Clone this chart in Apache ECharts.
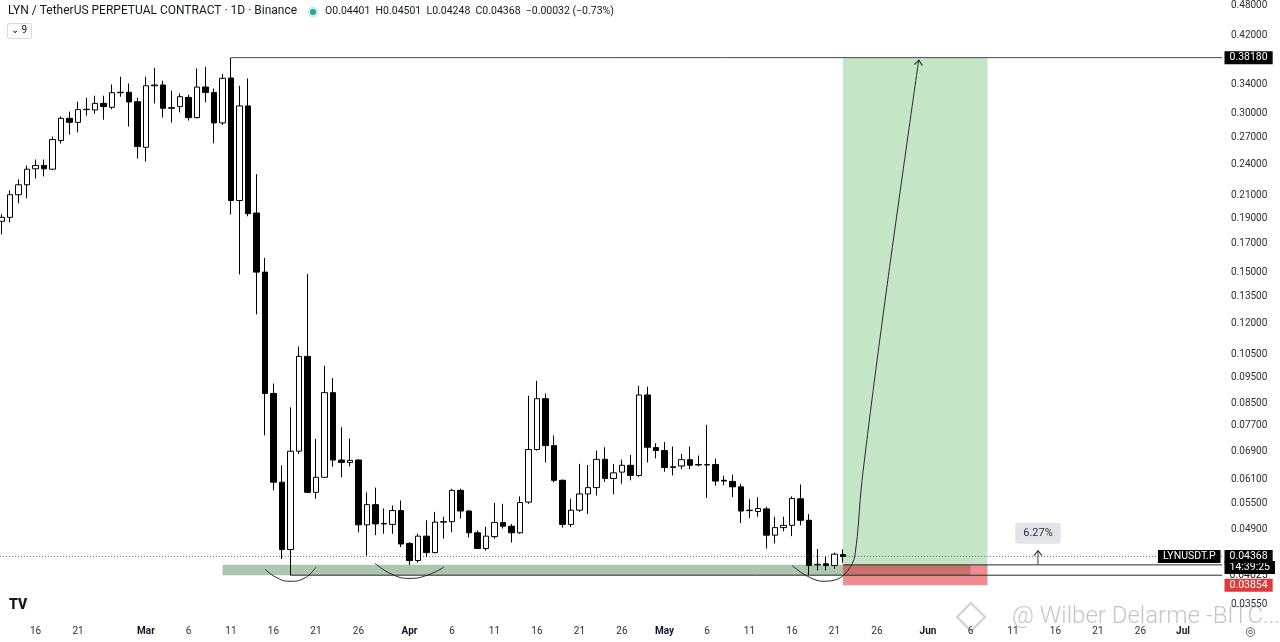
<!DOCTYPE html>
<html><head><meta charset="utf-8">
<script src="https://cdn.jsdelivr.net/npm/echarts@6/dist/echarts.min.js"></script>
<style>html,body{margin:0;padding:0;background:#fff}#c{width:1280px;height:642px}</style>
</head><body><div id="c"></div>
<script>
// ---------- data ----------
const firstDay = '2026-02-12';
const opens  = [.1875,.1907,.2104,.2197,.2355,.2389,.2351,.2662,.2933,.2882,.3046,.3042,.3130,.3077,.3278,.3285,.3153,
  .2586,.3379,.3390,.3064,.3086,.3212,.2942,.3360,.3282,.2875,.3494,.2052,.3095,.1943,.1503,.0887,.0603,.0450,.0690,.1042,.0577,.0616,.0890,.0664,.0657,.0664,.0501,.0547,.0503,.0502,.0533,
  .0462,.0429,.0477,.0444,.0507,.0508,.0582,.0532,.0484,.0452,.0476,.0506,.0498,.0484,.0553,.0695,.0867,.0707,.0608,.0502,.0534,.0573,.0589,.0666,.0613,.0630,.0649,.0621,.0881,.0701,
  .0692,.0643,.0647,.0665,.0651,.0650,.0651,.0608,.0605,.0591,.0533,.0531,.0537,.0479,.0495,.0500,.0561,.0511,.0421,.0423,.0420,.04401];
const closes = [.1907,.2104,.2197,.2351,.2389,.2355,.2674,.2933,.2882,.3046,.3050,.3130,.3086,.3278,.3285,.3149,.2594,
  .3379,.3390,.3064,.3072,.3222,.2942,.3360,.3282,.2875,.3491,.2052,.3095,.1938,.1503,.0887,.0603,.0450,.0690,.1042,.0577,.0616,.0890,.0664,.0657,.0663,.0501,.0547,.0503,.0504,.0533,.0461,
  .0429,.0477,.0444,.0507,.0508,.0582,.0532,.0484,.0452,.0477,.0506,.0498,.0484,.0552,.0695,.0867,.0707,.0608,.0502,.0534,.0573,.0589,.0666,.0613,.0628,.0649,.0621,.0881,.0702,.0692,
  .0643,.0645,.0665,.0649,.0650,.0651,.0606,.0606,.0591,.0532,.0534,.0538,.0479,.0495,.0500,.0562,.0511,.0420,.0422,.0420,.0441,.04368];
const lows   = [.1772,.1866,.2027,.2071,.2258,.2278,.2348,.2628,.2733,.2760,.2967,.2993,.2916,.3050,.3222,.2829,.2463,
  .2431,.3130,.2942,.2879,.3010,.2904,.2933,.3144,.2631,.2850,.1930,.1488,.1916,.1251,.0739,.0582,.0432,.04025,.0682,.0575,.0561,.0614,.0645,.0616,.0646,.0485,.0438,.0479,.0482,.0482,.0455,
  .0421,.0425,.0436,.0443,.0472,.0485,.0515,.0474,.0451,.0448,.0472,.0493,.0464,.0482,.0549,.0692,.0657,.0603,.0495,.0496,.0530,.0525,.0569,.0604,.0572,.0599,.0608,.0617,.0657,.0669,
  .0631,.0621,.0638,.0638,.0646,.0563,.0594,.0595,.0565,.0505,.0516,.0519,.0452,.0462,.0487,.0477,.0500,.0403,.0411,.0411,.0414,.04248];
const highs  = [.1932,.2144,.2249,.2389,.2452,.2452,.2709,.2955,.3019,.3153,.3208,.3236,.3236,.3398,.3514,.3413,.3208,
  .3514,.3653,.3453,.3307,.3268,.3250,.3642,.3669,.3340,.3555,.3818,.3379,.3489,.2301,.1599,.0926,.0649,.0835,.1088,.1491,.0728,.1000,.0948,.0766,.0729,.0666,.0577,.0589,.0538,.0545,.0557,
  .0465,.0482,.0511,.0530,.0519,.0586,.0586,.0534,.0489,.0497,.0551,.0549,.0503,.0567,.0878,.0937,.0887,.0739,.0610,.0561,.0653,.0650,.0692,.0702,.0653,.0665,.0679,.0917,.0913,.0714,
  .0718,.0704,.0682,.0704,.0677,.0774,.0668,.0620,.0623,.0599,.0560,.0565,.0542,.0519,.0519,.0567,.0597,.0525,.0451,.0436,.0444,.04501];

const priceTicks = [0.48,0.42,0.34,0.30,0.27,0.24,0.21,0.19,0.17,0.15,0.135,0.12,0.105,0.095,0.085,0.077,0.069,0.061,0.055,0.049,0.0355];
const dateTicks = ['2026-02-16','2026-02-21','2026-03-01','2026-03-06','2026-03-11','2026-03-16','2026-03-21','2026-03-26',
  '2026-04-01','2026-04-06','2026-04-11','2026-04-16','2026-04-21','2026-04-26','2026-05-01','2026-05-06','2026-05-11',
  '2026-05-16','2026-05-21','2026-05-26','2026-06-01','2026-06-06','2026-06-11','2026-06-16','2026-06-21','2026-06-26','2026-07-01'];
const monthNames = ['Jan','Feb','Mar','Apr','May','Jun','Jul','Aug','Sep','Oct','Nov','Dec'];

// drawings
const resistance = 0.3818, resistanceFrom = '2026-03-11';
const supportLow = 0.04025, supportHigh = 0.0421, supportFrom = '2026-03-10', supportTo = '2026-06-06', supportRayFrom = '2026-03-18';
const posFrom = '2026-05-22', posTo = '2026-06-08', posTarget = 0.3818, posEntry = 0.0421, posStop = 0.03854;
const lastPrice = 0.04368;
const rangeLabel = '6.27%', rangeDay = [6, 13.94], rangeFrom = 0.0421, rangeTo = 0.0447, rangeBox = 0.0483;
// arcs: [month, day (decimal), price]
const arc1 = [[3,15.0,.0413],[3,16.29,.0399],[3,17.94,.0392],[3,19.59,.0397],[3,21.0,.0417]];
const arc2 = [[3,27.94,.0424],[3,29.94,.0404],[4,1.06,.0397],[4,3.18,.0403],[4,5.06,.0417]];
const arrowPath = [[5,16.0,.0420],[5,17.53,.0403],[5,19.65,.0392],[5,21.41,.0396],[5,22.59,.0411],[5,23.41,.0439],[5,24.24,.0608],[5,26.94,.1325],[5,30.9,.3770]];

// ---------- helpers ----------
const DAY = 864e5;
const T = s => Date.parse(s + 'T00:00:00Z');
const TD = (m, d) => Date.UTC(2026, m - 1, 1) + (d - 1) * DAY;
const xMin = TD(2, 11.824), xMax = TD(7, 5.59);
const yMin = 0.033562, yMax = 0.48209;
const FONT = 'Roboto, "Noto Sans", sans-serif';
function dateIndex(s) { return Math.round((T(s) - T(firstDay)) / DAY); }

const candles = opens.map((o, i) => [T(firstDay) + i * DAY, o, closes[i], lows[i], highs[i]]);
const toPts = arr => arr.map(p => [TD(p[0], p[1]), p[2]]);
const DRAW = '#2b2b2b';

const tag = (text, bg, fg, pos, extra) => Object.assign({
  show: true, position: pos || 'right', distance: 2, formatter: text,
  backgroundColor: bg, color: fg, padding: [2, 5, 1, 5], fontSize: 10.5, fontFamily: FONT, lineHeight: 10
}, extra || {});
const pt = (x, y, label) => ({ value: [x, y], label });

const chart = echarts.init(document.getElementById('c'));
chart.setOption({
  animation: false,
  backgroundColor: '#ffffff',
  textStyle: { fontFamily: FONT },
  grid: { left: 0, right: 58, top: 0, bottom: 25 },
  xAxis: {
    type: 'value', min: xMin, max: xMax, scale: true,
    axisLine: { show: false }, axisTick: { show: false }, splitLine: { show: false },
    axisLabel: {
      customValues: dateTicks.map(T), margin: 9, fontSize: 10, color: '#2a2e39', fontFamily: FONT,
      formatter: v => { const d = new Date(v); return d.getUTCDate() === 1 ? '{m|' + monthNames[d.getUTCMonth()] + '}' : String(d.getUTCDate()); },
      rich: { m: { fontWeight: 'bold', fontSize: 10, color: '#131722', fontFamily: FONT } }
    }
  },
  yAxis: {
    type: 'log', logBase: 10, position: 'right', min: yMin, max: yMax,
    axisLine: { show: false }, axisTick: { show: false }, splitLine: { show: false },
    axisLabel: { customValues: priceTicks, formatter: v => Number(v).toFixed(5), fontSize: 10, color: '#2a2e39', margin: 9, fontFamily: FONT }
  },
  series: [
    { // support zone
      type: 'line', data: [], z: 1, silent: true,
      markArea: { silent: true, itemStyle: { color: 'rgba(70,130,75,0.45)' },
        data: [[{ coord: [T(supportFrom), supportHigh] }, { coord: [T(supportTo), supportLow] }]] }
    },
    { // long position tool
      type: 'line', data: [], z: 1, silent: true,
      markArea: { silent: true, data: [
        [{ coord: [T(posFrom), posTarget], itemStyle: { color: 'rgba(76,175,80,0.32)' } }, { coord: [T(posTo), posEntry] }],
        [{ coord: [T(posFrom), posEntry], itemStyle: { color: 'rgba(222,45,55,0.55)' } }, { coord: [T(posTo), posStop] }]
      ] }
    },
    { // current price dotted line
      type: 'line', z: 2, symbol: 'none', silent: true, lineStyle: { color: '#6b6b6b', width: 1, type: [1, 2] },
      data: [[xMin, lastPrice], [xMax, lastPrice]] },
    { // rays
      type: 'line', z: 2, symbol: 'none', silent: true, lineStyle: { color: '#4a4a4a', width: 1 },
      data: [[T(resistanceFrom), highs[dateIndex(resistanceFrom)]], [T(resistanceFrom), resistance], [xMax, resistance]]
    },
    { type: 'line', z: 2, symbol: 'none', silent: true, lineStyle: { color: DRAW, width: 1 },
      data: [[T(supportRayFrom), supportLow], [xMax, supportLow]] },
    { type: 'line', z: 2, symbol: 'none', silent: true, lineStyle: { color: DRAW, width: 1 },
      data: [[T(posFrom), supportHigh], [xMax, supportHigh]] },
    {
      type: 'candlestick', z: 3, barWidth: 6, data: candles,
      encode: { x: 0, y: [1, 2, 3, 4] },
      itemStyle: { color: '#ffffff', color0: '#000000', borderColor: '#000000', borderColor0: '#000000', borderColorDoji: '#000000', borderWidth: 1 }
    },
    { type: 'line', z: 4, symbol: 'none', smooth: 0.5, silent: true, lineStyle: { color: DRAW, width: 1 }, data: toPts(arc1) },
    { type: 'line', z: 4, symbol: 'none', smooth: 0.5, silent: true, lineStyle: { color: DRAW, width: 1 }, data: toPts(arc2) },
    { type: 'line', z: 4, symbol: 'none', smooth: 0.35, silent: true, lineStyle: { color: DRAW, width: 1 }, data: toPts(arrowPath) },
    { type: 'line', z: 4, symbol: 'none', silent: true, lineStyle: { color: '#444', width: 1 },
      data: [[TD(rangeDay[0], rangeDay[1]), rangeFrom], [TD(rangeDay[0], rangeDay[1]), rangeTo]] },
    { // arrow heads
      type: 'scatter', z: 5, silent: true,
      symbol: 'path://M0,8 L5,0 L10,8', symbolSize: [8, 5], symbolOffset: [0, 2],
      itemStyle: { color: 'rgba(0,0,0,0)', borderColor: DRAW, borderWidth: 1, opacity: 1 },
      data: [
        { value: toPts([arrowPath[arrowPath.length - 1]])[0], symbolRotate: -8 },
        { value: [TD(rangeDay[0], rangeDay[1]), rangeTo] }
      ]
    },
    { // tags and text boxes
      type: 'scatter', z: 10, silent: true, clip: false, symbol: 'rect', symbolSize: 1,
      itemStyle: { color: 'rgba(0,0,0,0)', opacity: 1 },
      data: [
        pt(xMax, resistance, tag('0.38180', '#000000', '#ffffff')),
        pt(xMax, supportLow, tag('0.04025', '#ffffff', '#131722')),
        pt(xMax, posStop, tag('0.03854', '#e03a3a', '#ffffff')),
        pt(xMax, lastPrice, tag('14:39:25', '#000000', '#ffffff', 'right', { offset: [0, 11] })),
        pt(xMax, lastPrice, tag('0.04368', '#000000', '#ffffff')),
        pt(xMax, lastPrice, tag('LYNUSDT.P', '#000000', '#ffffff', 'left', { distance: 1 })),
        pt(TD(rangeDay[0], rangeDay[1]), rangeBox, { show: true, position: 'inside', formatter: rangeLabel,
          backgroundColor: '#e3e4e8', color: '#2a2e39', padding: [5, 8], borderRadius: 3, fontSize: 11, fontFamily: FONT })
      ]
    }
  ],
  graphic: [
    { type: 'text', x: 8, y: 5, style: { text: 'LYN / TetherUS PERPETUAL CONTRACT · 1D · Binance', font: '12px ' + FONT, fill: '#131722' } },
    { type: 'circle', shape: { cx: 313, cy: 12, r: 5.5 }, style: { fill: 'rgba(38,166,154,0.22)' } },
    { type: 'circle', shape: { cx: 313, cy: 12, r: 3 }, style: { fill: '#26a69a' } },
    { type: 'text', x: 325, y: 6, style: { text: 'O0.04401  H0.04501  L0.04248  C0.04368  −0.00032 (−0.73%)', font: '10.5px ' + FONT, fill: '#131722' } },
    { type: 'rect', shape: { x: 7.5, y: 23.5, width: 24, height: 15, r: 2 }, style: { fill: '#fff', stroke: '#d6d8de', lineWidth: 1 } },
    { type: 'text', x: 11, y: 25, style: { text: '⌄ 9', font: '10px ' + FONT, fill: '#131722' } },
    { type: 'text', x: 9, y: 598, style: { text: 'TV', font: '900 14px ' + FONT, fill: '#131722' } },
    { type: 'polygon', shape: { points: [[971, 603], [985, 617], [971, 631], [957, 617]] }, style: { fill: 'none', stroke: 'rgba(150,150,150,0.45)', lineWidth: 2 } },
    { type: 'text', x: 1012, y: 605, style: { text: '@ Wilber Delarme -BITC...', font: '300 24px ' + FONT, fill: 'rgba(140,140,140,0.5)' } },
    { type: 'text', x: 1245, y: 626, style: { text: '◎', font: '12px "DejaVu Sans"', fill: '#444' } }
  ]
});
</script>
</body></html>
